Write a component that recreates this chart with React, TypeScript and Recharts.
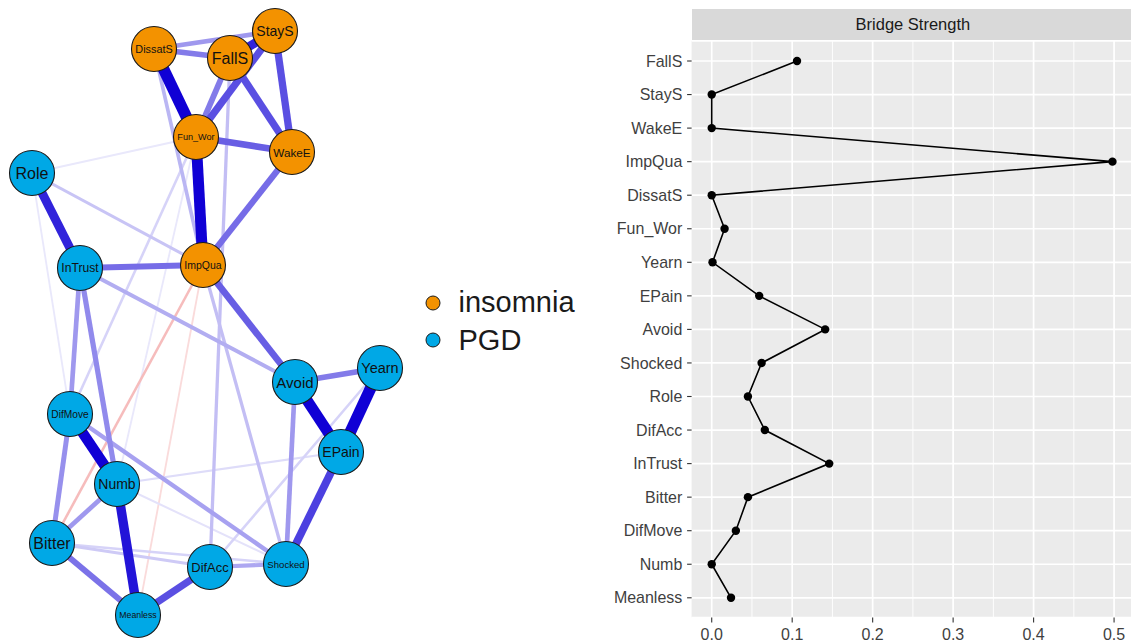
import React from 'react';
import { ScatterChart, Scatter, XAxis, YAxis, LineChart, Line, CartesianGrid } from 'recharts';

// ---------- Network data ----------
const nodeNames = ['DissatS', 'FallS', 'StayS', 'Fun_Wor', 'WakeE', 'ImpQua', 'Role', 'InTrust', 'Avoid', 'Yearn', 'DifMove', 'EPain', 'Numb', 'Bitter', 'DifAcc', 'Shocked', 'Meanless'];
const nodeGroups = ['insomnia', 'insomnia', 'insomnia', 'insomnia', 'insomnia', 'insomnia', 'PGD', 'PGD', 'PGD', 'PGD', 'PGD', 'PGD', 'PGD', 'PGD', 'PGD', 'PGD', 'PGD'];
const nodeX = [154, 230, 275, 196, 292, 203, 32, 80, 295, 380, 70, 341, 117, 52, 210, 286, 138];
const nodeY = [49, 58, 31, 137, 152, 265, 173, 268, 382, 368, 414, 452, 484, 543, 567, 564, 615];

const edgeFrom = ['DissatS', 'Fun_Wor', 'FallS', 'Fun_Wor', 'Fun_Wor', 'FallS', 'StayS', 'Fun_Wor', 'DissatS', 'DissatS', 'WakeE', 'DissatS', 'FallS', 'ImpQua', 'Role', 'InTrust', 'Role', 'Role', 'InTrust', 'ImpQua', 'ImpQua', 'ImpQua', 'Fun_Wor', 'InTrust', 'InTrust', 'DifMove', 'DifMove', 'DifMove', 'Numb', 'Numb', 'Bitter', 'Meanless', 'DifAcc', 'Bitter', 'Bitter', 'Numb', 'Numb', 'Avoid', 'Avoid', 'Yearn', 'EPain', 'Avoid', 'Yearn', 'InTrust', 'Role', 'Fun_Wor'];
const edgeTo = ['Fun_Wor', 'ImpQua', 'StayS', 'StayS', 'FallS', 'WakeE', 'WakeE', 'WakeE', 'FallS', 'StayS', 'ImpQua', 'ImpQua', 'DifAcc', 'Shocked', 'InTrust', 'ImpQua', 'ImpQua', 'Fun_Wor', 'Avoid', 'Avoid', 'Bitter', 'Meanless', 'DifMove', 'DifMove', 'Numb', 'Bitter', 'Numb', 'Shocked', 'Meanless', 'Bitter', 'Meanless', 'DifAcc', 'Shocked', 'DifAcc', 'Shocked', 'EPain', 'Shocked', 'Yearn', 'EPain', 'EPain', 'Shocked', 'Shocked', 'DifAcc', 'Meanless', 'DifMove', 'Numb'];
const edgeWeight = [1.0, 0.95, 0.75, 0.6, 0.45, 0.6, 0.6, 0.55, 0.45, 0.35, 0.5, 0.25, 0.22, 0.22, 0.75, 0.5, 0.2, 0.08, 0.28, 0.55, -0.15, -0.08, 0.15, 0.35, 0.4, 0.38, 0.9, 0.32, 0.8, 0.35, 0.48, 0.6, 0.3, 0.18, 0.15, 0.12, 0.1, 0.45, 0.95, 1.0, 0.65, 0.35, 0.15, 0.1, 0.08, 0.08];

const groupNames = ['insomnia', 'PGD'];
const groupColors = ['#F39200', '#00A8E6'];

// ---------- Bridge strength data ----------
const bridgeLabels = ['FallS', 'StayS', 'WakeE', 'ImpQua', 'DissatS', 'Fun_Wor', 'Yearn', 'EPain', 'Avoid', 'Shocked', 'Role', 'DifAcc', 'InTrust', 'Bitter', 'DifMove', 'Numb', 'Meanless'];
const bridgeValues = [0.106, 0, 0, 0.498, 0, 0.016, 0.001, 0.059, 0.141, 0.062, 0.045, 0.066, 0.146, 0.045, 0.03, 0, 0.024];
const xTicks = [0, 0.1, 0.2, 0.3, 0.4, 0.5];
const xMinorTicks = [0.05, 0.15, 0.25, 0.35, 0.45];

const FONT = '"Liberation Sans", Arial, Helvetica, sans-serif';

let measureCtx: CanvasRenderingContext2D | null = null;
function textWidth(s: string, size: number): number {
  if (!measureCtx && typeof document !== 'undefined') {
    measureCtx = document.createElement('canvas').getContext('2d');
  }
  if (measureCtx) {
    measureCtx.font = `${size}px ${FONT}`;
    return measureCtx.measureText(s).width;
  }
  return s.length * size * 0.55;
}
function labelSize(s: string): number {
  const base = 16;
  const norm = textWidth('OOO', base);
  const w = textWidth(s, base);
  return base * Math.min(1, norm / w);
}

function colorFor(group: string) {
  return groupColors[groupNames.indexOf(group)];
}

function edgeColor(w: number): string {
  const a = Math.abs(w);
  const s = Math.min(1, a * 1.15);
  if (w >= 0) {
    const r = Math.round(255 - s * (255 - 16));
    const g = Math.round(255 - s * 255);
    const b = Math.round(255 - s * (255 - 213));
    return `rgb(${r},${g},${b})`;
  }
  const t = Math.min(1, a * 2);
  const r = Math.round(255 - t * (255 - 225));
  const g = Math.round(255 - t * (255 - 30));
  const b = Math.round(255 - t * (255 - 30));
  return `rgb(${r},${g},${b})`;
}

const nodes = nodeNames.map((name, i) => ({ name, group: nodeGroups[i], x: nodeX[i], y: nodeY[i] }));
const edges = edgeFrom
  .map((f, i) => ({ from: f, to: edgeTo[i], w: edgeWeight[i] }))
  .sort((a, b) => Math.abs(a.w) - Math.abs(b.w));

const NodeShape = (props: any) => {
  const { cx, cy, payload } = props;
  const fs = labelSize(payload.name);
  return (
    <g>
      <circle cx={cx} cy={cy} r={22.5} fill={colorFor(payload.group)} stroke="#1a1a1a" strokeWidth={1.1} />
      <text x={cx} y={cy} textAnchor="middle" dominantBaseline="central" fontSize={fs} fill="#111" fontFamily={FONT}>
        {payload.name}
      </text>
    </g>
  );
};

const EmptyShape = () => <g />;

const bridgeData = bridgeLabels.map((name, i) => ({ name, value: bridgeValues[i] }));

export default function App() {
  return (
    <div style={{ position: 'absolute', left: 0, top: 0, width: 1131, height: 644, overflow: 'hidden', background: '#fff', fontFamily: FONT }}>
      {/* Network */}
      <div style={{ position: 'absolute', left: 0, top: 0 }}>
        <ScatterChart width={420} height={644} margin={{ top: 0, right: 0, bottom: 0, left: 0 }}>
          <XAxis type="number" dataKey="x" domain={[0, 420]} hide allowDataOverflow />
          <YAxis type="number" dataKey="y" domain={[0, 644]} hide reversed allowDataOverflow />
          {edges.map((e, i) => {
            const a = nodes.find((n) => n.name === e.from)!;
            const b = nodes.find((n) => n.name === e.to)!;
            return (
              <Scatter
                key={`e${i}`}
                data={[{ x: a.x, y: a.y }, { x: b.x, y: b.y }]}
                line={{ stroke: edgeColor(e.w), strokeWidth: 1 + 10.5 * Math.abs(e.w) }}
                shape={EmptyShape}
                isAnimationActive={false}
              />
            );
          })}
          <Scatter data={nodes} shape={NodeShape} isAnimationActive={false} />
        </ScatterChart>
      </div>

      {/* Legend */}
      <div style={{ position: 'absolute', left: 420, top: 284, color: '#1a1a1a' }}>
        {groupNames.map((g, i) => (
          <div key={g} style={{ display: 'flex', alignItems: 'center', height: 37.5 }}>
            <svg width={30} height={20} style={{ marginLeft: 4.5 }}>
              <circle cx={8} cy={10} r={7} fill={groupColors[i]} stroke="#1a1a1a" strokeWidth={1} />
            </svg>
            <span style={{ fontSize: 29, lineHeight: '37px', marginLeft: 4 }}>{g}</span>
          </div>
        ))}
      </div>

      {/* Strip */}
      <div
        style={{
          position: 'absolute',
          left: 691.6,
          top: 9,
          width: 442.6,
          height: 31.8,
          background: '#D9D9D9',
          color: '#1A1A1A',
          fontSize: 16.5,
          lineHeight: '31.8px',
          textAlign: 'center',
        }}
      >
        Bridge Strength
      </div>

      {/* Bridge strength */}
      <div style={{ position: 'absolute', left: 600, top: 0 }}>
        <LineChart layout="vertical" width={534.2} height={644} data={bridgeData} margin={{ top: 40.8, right: 0, bottom: 0, left: 0 }}>
          <CartesianGrid fill="#EBEBEB" stroke="#FFFFFF" strokeWidth={0.9} horizontal={false} verticalValues={xMinorTicks} />
          <CartesianGrid stroke="#FFFFFF" strokeWidth={1.7} verticalValues={xTicks} />
          <XAxis
            type="number"
            dataKey="value"
            domain={[-0.025, 0.525]}
            allowDataOverflow
            ticks={xTicks}
            interval={0}
            tickFormatter={(v: number) => v.toFixed(1)}
            axisLine={false}
            tickLine={{ stroke: '#333333', strokeWidth: 1.1 }}
            tickSize={5}
            tickMargin={6}
            height={26.5}
            tick={{ fill: '#3F3F3F', fontSize: 16 }}
          />
          <YAxis
            type="category"
            dataKey="name"
            scale="point"
            padding={{ top: 20.2, bottom: 19.7 }}
            width={91.6}
            interval={0}
            axisLine={false}
            tickLine={{ stroke: '#333333', strokeWidth: 1.1 }}
            tickSize={4.5}
            tickMargin={4.8}
            tick={{ fill: '#3F3F3F', fontSize: 16 }}
          />
          <Line
            type="linear"
            dataKey="value"
            stroke="#000"
            strokeWidth={1.6}
            dot={{ r: 4.2, fill: '#000', stroke: '#000', strokeWidth: 0 }}
            isAnimationActive={false}
          />
        </LineChart>
      </div>
    </div>
  );
}
